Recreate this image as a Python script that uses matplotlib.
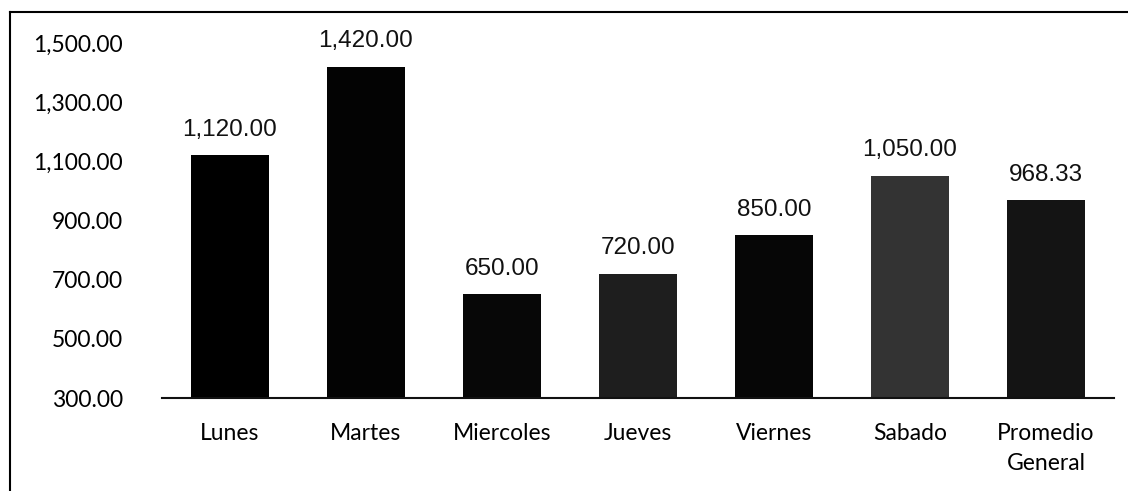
import matplotlib
matplotlib.use("Agg")
import matplotlib.pyplot as plt
from matplotlib.lines import Line2D

categories = ["Lunes", "Martes", "Miercoles", "Jueves", "Viernes", "Sabado", "Promedio\nGeneral"]
values = [1120.00, 1420.00, 650.00, 720.00, 850.00, 1050.00, 968.33]
bar_colors = ["#000000", "#030303", "#070707", "#1e1e1e", "#060606", "#333333", "#141414"]
yticks = [300, 500, 700, 900, 1100, 1300, 1500]

fig = plt.figure(figsize=(11.28, 4.91), dpi=100)
ax = fig.add_axes([0.1436, 0.1894, 0.844, 0.723])

x = range(len(categories))
ax.bar(x, [v - 300 for v in values], bottom=300, width=0.58, color=bar_colors)
for xi, v in zip(x, values):
    ax.text(xi, v + 50, f"{v:,.2f}", ha="center", va="bottom",
            fontsize=17.5, family="Liberation Sans", color="#111111")

ax.set_ylim(300, 1500)
ax.set_xlim(-0.5, len(categories) - 0.5)
ax.set_yticks(yticks)
ax.set_yticklabels([f"{t:,.2f}" for t in yticks], fontsize=16.5, family="Lato")
ax.set_xticks(list(x))
ax.set_xticklabels(categories, fontsize=16.5, family="Lato", linespacing=1.5)
ax.tick_params(axis="x", length=0, pad=18)
ax.tick_params(axis="y", length=0, pad=28)
for s in ["top", "right", "left"]:
    ax.spines[s].set_visible(False)
ax.spines["bottom"].set_linewidth(1.5)
ax.spines["bottom"].set_color("#111111")

# outer frame (scanned border on left and top)
fig.add_artist(Line2D([0.0089, 0.0089], [0.0, 0.976], color="black", lw=1.5, transform=fig.transFigure))
fig.add_artist(Line2D([0.0089, 1.0], [0.976, 0.976], color="black", lw=1.5, transform=fig.transFigure))

fig.savefig("out.png", dpi=100)
